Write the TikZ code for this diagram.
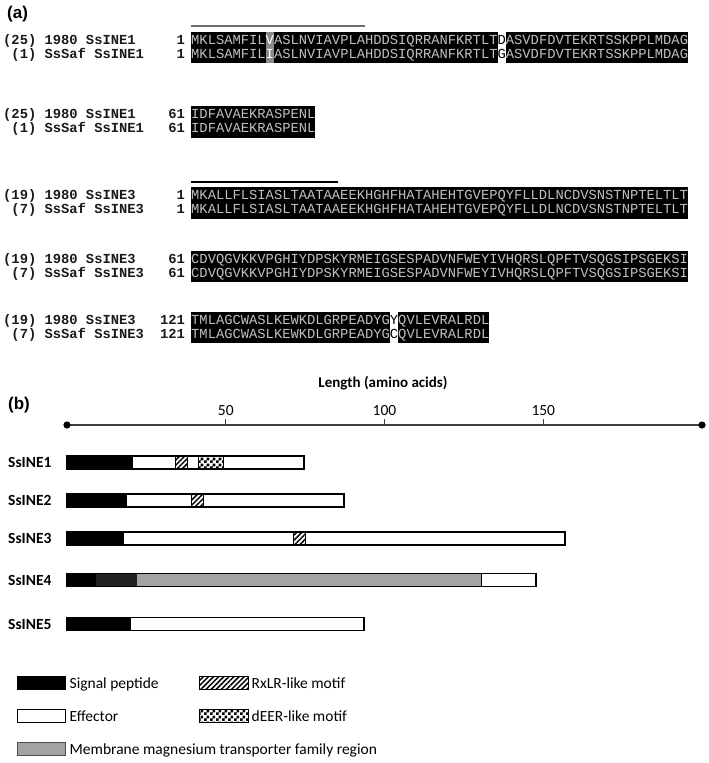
\documentclass[tikz,border=0pt]{standalone}
\usepackage{fontspec}
\setmainfont{Carlito}
\newfontfamily\seqfont{Liberation Mono}
\newfontfamily\arialfont{Liberation Sans}
\usetikzlibrary{patterns,patterns.meta}
\definecolor{seqgray}{HTML}{C0C0C0}
\definecolor{labblack}{HTML}{1A1A1A}
\definecolor{diffgray}{HTML}{8A8A8A}
\definecolor{olgray}{HTML}{707070}
\definecolor{axisgray}{HTML}{404040}
\definecolor{darkseg}{HTML}{222222}
\definecolor{mmgray}{HTML}{A3A3A3}
\pgfdeclarepatternformonly{mychecker}{\pgfpointorigin}{\pgfqpoint{6pt}{6pt}}{\pgfqpoint{6pt}{6pt}}{%
  \pgfpathrectangle{\pgfpointorigin}{\pgfqpoint{3pt}{3pt}}%
  \pgfpathrectangle{\pgfqpoint{3pt}{3pt}}{\pgfqpoint{3pt}{3pt}}%
  \pgfusepath{fill}}
\begin{document}
\begin{tikzpicture}[x=1pt,y=-1pt,
  panel/.style={font=\arialfont\bfseries\fontsize{17}{20}\selectfont, inner sep=0, anchor=base west},
  lab/.style={font=\seqfont\bfseries\fontsize{13.8}{14}\selectfont, text=labblack, inner sep=0, anchor=base west},
  num/.style={lab, anchor=base east},
  seq/.style={font=\seqfont\fontsize{13.8}{14}\selectfont, text=seqgray, inner sep=0, anchor=base west},
  plab/.style={font=\bfseries\fontsize{15.5}{18}\selectfont, inner sep=0, anchor=base west},
  tlab/.style={font=\fontsize{15.5}{18}\selectfont, inner sep=0, anchor=base},
  leg/.style={font=\fontsize{15.5}{18}\selectfont, inner sep=0, anchor=base west},
  barline/.style={draw=black, line width=1.1pt},
  hatch/.style={pattern={Lines[angle=45,distance=3.6pt,line width=1.5pt]}, pattern color=black},
  checker/.style={pattern=mychecker, pattern color=black}
]
\useasboundingbox (0,0) rectangle (709,763);

% ---------------- panel (a) ----------------
\node[panel] (pa) at (7,18) {(a)};

% SsINE1 block 1
\draw[olgray, line width=1.6pt] (191,26) -- (365,26);
\fill[black] (191,31.5) rectangle (688,63);
\fill[diffgray] (265.5,31.5) rectangle (273.8,63);
\fill[white] (497.5,31.5) rectangle (505.8,63);
\node[lab] (a1l) at (3,44) {(25) 1980 SsINE1};
\node[num] (a1n) at (185.2,44) {1};
\node[seq] (a1s) at (191,44) {MKLSAMFIL\textcolor{white}{V}ASLNVIAVPLAHDDSIQRRANFKRTLT\textcolor{black}{D}ASVDFDVTEKRTSSKPPLMDAG};
\node[lab] (a2l) at (11.3,58) {(1) SsSaf SsINE1};
\node[num] (a2n) at (185.2,58) {1};
\node[seq] (a2s) at (191,58) {MKLSAMFIL\textcolor{white}{I}ASLNVIAVPLAHDDSIQRRANFKRTLT\textcolor{black}{G}ASVDFDVTEKRTSSKPPLMDAG};

% SsINE1 block 2
\fill[black] (191,106) rectangle (315.2,137.5);
\node[lab] (b1l) at (3,118.5) {(25) 1980 SsINE1};
\node[num] (b1n) at (185.2,118.5) {61};
\node[seq] (b1s) at (191,118.5) {IDFAVAEKRASPENL};
\node[lab] (b2l) at (11.3,132.5) {(1) SsSaf SsINE1};
\node[num] (b2n) at (185.2,132.5) {61};
\node[seq] (b2s) at (191,132.5) {IDFAVAEKRASPENL};

% SsINE3 block 1
\draw[black, line width=1.6pt] (191,182) -- (338,182);
\fill[black] (191,187) rectangle (688,218.5);
\node[lab] (c1l) at (3,199.5) {(19) 1980 SsINE3};
\node[num] (c1n) at (185.2,199.5) {1};
\node[seq] (c1s) at (191,199.5) {MKALLFLSIASLTAATAAEEKHGHFHATAHEHTGVEPQYFLLDLNCDVSNSTNPTELTLT};
\node[lab] (c2l) at (11.3,213.5) {(7) SsSaf SsINE3};
\node[num] (c2n) at (185.2,213.5) {1};
\node[seq] (c2s) at (191,213.5) {MKALLFLSIASLTAATAAEEKHGHFHATAHEHTGVEPQYFLLDLNCDVSNSTNPTELTLT};

% SsINE3 block 2
\fill[black] (191,250.5) rectangle (688,282);
\node[lab] (d1l) at (3,263) {(19) 1980 SsINE3};
\node[num] (d1n) at (185.2,263) {61};
\node[seq] (d1s) at (191,263) {CDVQGVKKVPGHIYDPSKYRMEIGSESPADVNFWEYIVHQRSLQPFTVSQGSIPSGEKSI};
\node[lab] (d2l) at (11.3,277) {(7) SsSaf SsINE3};
\node[num] (d2n) at (185.2,277) {61};
\node[seq] (d2s) at (191,277) {CDVQGVKKVPGHIYDPSKYRMEIGSESPADVNFWEYIVHQRSLQPFTVSQGSIPSGEKSI};

% SsINE3 block 3
\fill[black] (191,311.5) rectangle (389.8,343);
\fill[black] (398.1,311.5) rectangle (489.2,343);
\node[lab] (e1l) at (3,324) {(19) 1980 SsINE3};
\node[num] (e1n) at (185.2,324) {121};
\node[seq] (e1s) at (191,324) {TMLAGCWASLKEWKDLGRPEADYG\textcolor{black}{Y}QVLEVRALRDL};
\node[lab] (e2l) at (11.3,338) {(7) SsSaf SsINE3};
\node[num] (e2n) at (185.2,338) {121};
\node[seq] (e2s) at (191,338) {TMLAGCWASLKEWKDLGRPEADYG\textcolor{black}{C}QVLEVRALRDL};

% ---------------- panel (b) ----------------
\node[panel] (pb) at (8,409) {(b)};
\node[font=\bfseries\fontsize{15}{18}\selectfont, inner sep=0, anchor=base] (ttl) at (383,387) {Length (amino acids)};

\coordinate (ax0) at (67,425);
\coordinate (ax1) at (702,425);
\draw[axisgray, line width=1.3pt] (ax0) -- (ax1);
\fill[black] (ax0) circle (3.6);
\fill[black] (ax1) circle (3.6);
\foreach \xx/\tt/\nm in {225.8/50/t50, 384.5/100/t100, 543.3/150/t150}{
  \draw[axisgray, line width=1.1pt] (\xx,425) -- (\xx,418.5);
  \node[tlab] (\nm) at (\xx,415) {\tt};
}

% SsINE1
\node[plab] (p1) at (8,467.5) {SsINE1};
\fill[black] (66.5,456) rectangle (133,469);
\fill[white] (133,456) rectangle (304,469);
\path[hatch] (175,456) rectangle (187,469);
\draw[black, line width=0.8pt] (175,456) rectangle (187,469);
\path[checker] (198,456) rectangle (223,469);
\draw[black, line width=0.8pt] (198,456) rectangle (223,469);
\draw[barline] (66.5,456) rectangle (304,469);

% SsINE2
\node[plab] (p2) at (8,505.5) {SsINE2};
\fill[black] (66.5,494) rectangle (127,507);
\path[hatch] (191,494) rectangle (203,507);
\draw[black, line width=0.8pt] (191,494) rectangle (203,507);
\draw[barline] (66.5,494) rectangle (344,507);

% SsINE3
\node[plab] (p3) at (8,543.5) {SsINE3};
\fill[black] (66.5,532) rectangle (124,545);
\path[hatch] (293,532) rectangle (305,545);
\draw[black, line width=0.8pt] (293,532) rectangle (305,545);
\draw[barline] (66.5,532) rectangle (565,545);

% SsINE4
\node[plab] (p4) at (8,585.5) {SsINE4};
\fill[black] (66.5,573.5) rectangle (95.5,586.5);
\fill[darkseg] (95.5,573.5) rectangle (137,586.5);
\fill[mmgray] (137,573.5) rectangle (481,586.5);
\draw[black, line width=0.8pt] (481,573.5) -- (481,586.5);
\draw[barline] (66.5,573.5) rectangle (536,586.5);

% SsINE5
\node[plab] (p5) at (8,629.5) {SsINE5};
\fill[black] (66.5,617.5) rectangle (131,630.5);
\draw[barline] (66.5,617.5) rectangle (364,630.5);

% ---------------- legend ----------------
\fill[black] (17,676.5) rectangle (65,689.5);
\draw[black, line width=0.8pt] (17,676.5) rectangle (65,689.5);
\node[leg] (l1) at (69.5,688) {Signal peptide};
\path[hatch] (199,676.5) rectangle (248,689.5);
\draw[black, line width=0.8pt] (199,676.5) rectangle (248,689.5);
\node[leg] (l2) at (251.5,688) {RxLR-like motif};

\draw[black, line width=0.8pt, fill=white] (17,709.5) rectangle (65,722.5);
\node[leg] (l3) at (69.5,721) {Effector};
\path[checker] (199,709.5) rectangle (248,722.5);
\draw[black, line width=0.8pt] (199,709.5) rectangle (248,722.5);
\node[leg] (l4) at (251.5,721) {dEER-like motif};

\draw[black!70, line width=0.8pt, fill=mmgray] (17,742.5) rectangle (65,755.5);
\node[leg] (l5) at (69.5,754) {Membrane magnesium transporter family region};
\end{tikzpicture}
\end{document}
